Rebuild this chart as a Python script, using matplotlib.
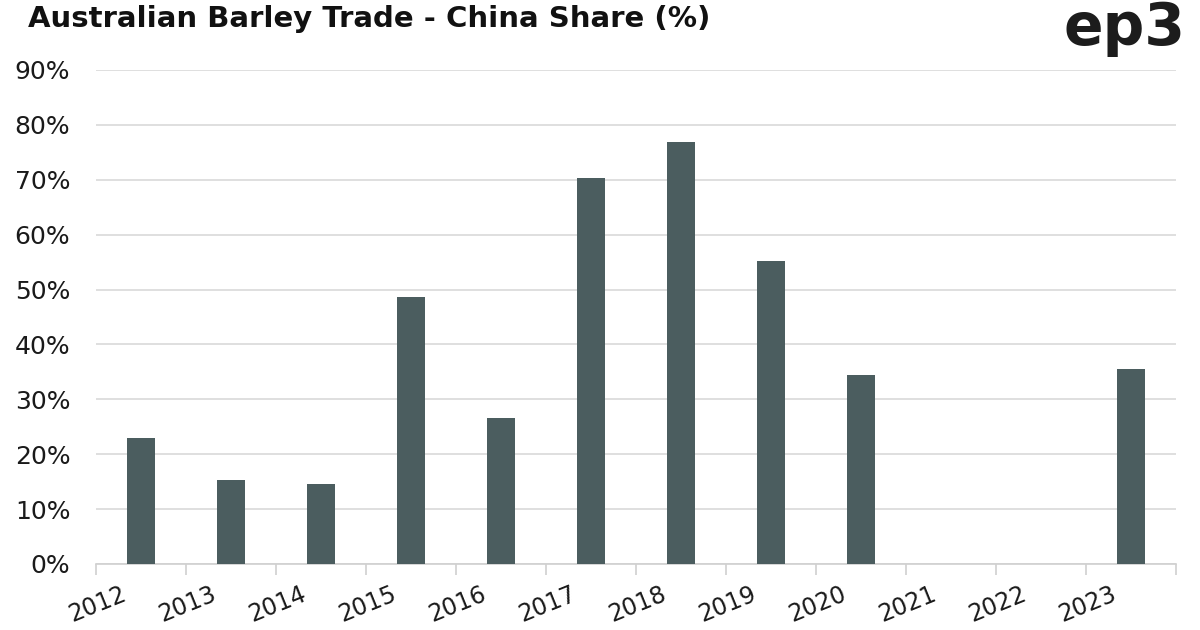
import numpy as np
import matplotlib
matplotlib.use("Agg")
import matplotlib.pyplot as plt
import matplotlib.transforms as mtransforms
from matplotlib.ticker import FuncFormatter, FixedLocator

years = ["2012", "2013", "2014", "2015", "2016", "2017",
         "2018", "2019", "2020", "2021", "2022", "2023"]
china_share = [22.9, 15.3, 14.6, 48.6, 26.6, 70.3, 76.9, 55.2, 34.4, 0.0, 0.0, 35.5]

plt.rcParams['font.family'] = ['DejaVu Sans']

fig = plt.figure(figsize=(12, 6.3), dpi=100)
ax = fig.add_axes([0.08, 0.1048, 0.90, 0.7841])

x = np.arange(len(years))
ax.bar(x, china_share, width=0.31, color="#4b5d5f", zorder=3)

ax.set_xlim(-0.5, len(years) - 0.5)
ax.set_ylim(0, 90)
ax.set_yticks(np.arange(0, 91, 10))
ax.yaxis.set_major_formatter(FuncFormatter(lambda v, p: f"{v:.0f}%"))
ax.grid(axis="y", color="#d9d9d9", linewidth=1.2, zorder=0)
ax.tick_params(axis="y", length=0, labelsize=18, pad=18.5, labelcolor="#1a1a1a")

# category boundaries carry tick marks, labels sit at centres
ax.xaxis.set_major_locator(FixedLocator(np.arange(-0.5, len(years), 1)))
ax.xaxis.set_major_formatter(FuncFormatter(lambda v, p: ""))
ax.xaxis.set_minor_locator(FixedLocator(x))
ax.set_xticklabels(years, minor=True)
ax.tick_params(axis="x", which="major", length=8, width=1.2, color="#d0d0d0")
ax.tick_params(axis="x", which="minor", length=0, labelsize=17, pad=13,
               labelcolor="#1a1a1a")
shift = mtransforms.ScaledTranslation(-0.20, 0, fig.dpi_scale_trans)
for lbl in ax.get_xticklabels(minor=True):
    lbl.set_rotation(22)
    lbl.set_ha("right")
    lbl.set_rotation_mode("anchor")
    lbl.set_transform(lbl.get_transform() + shift)

for s in ["top", "right", "left"]:
    ax.spines[s].set_visible(False)
ax.spines["bottom"].set_color("#d0d0d0")
ax.spines["bottom"].set_linewidth(1.2)

fig.text(0.0233, 0.957, "Australian Barley Trade - China Share (%)",
         fontsize=21, fontweight="bold", ha="left", va="baseline", color="#111111")
fig.text(0.988, 0.9286, "ep3", fontsize=42, fontweight="bold",
         ha="right", va="baseline", color="#1c1c1c")

fig.savefig("out.png", dpi=100)
